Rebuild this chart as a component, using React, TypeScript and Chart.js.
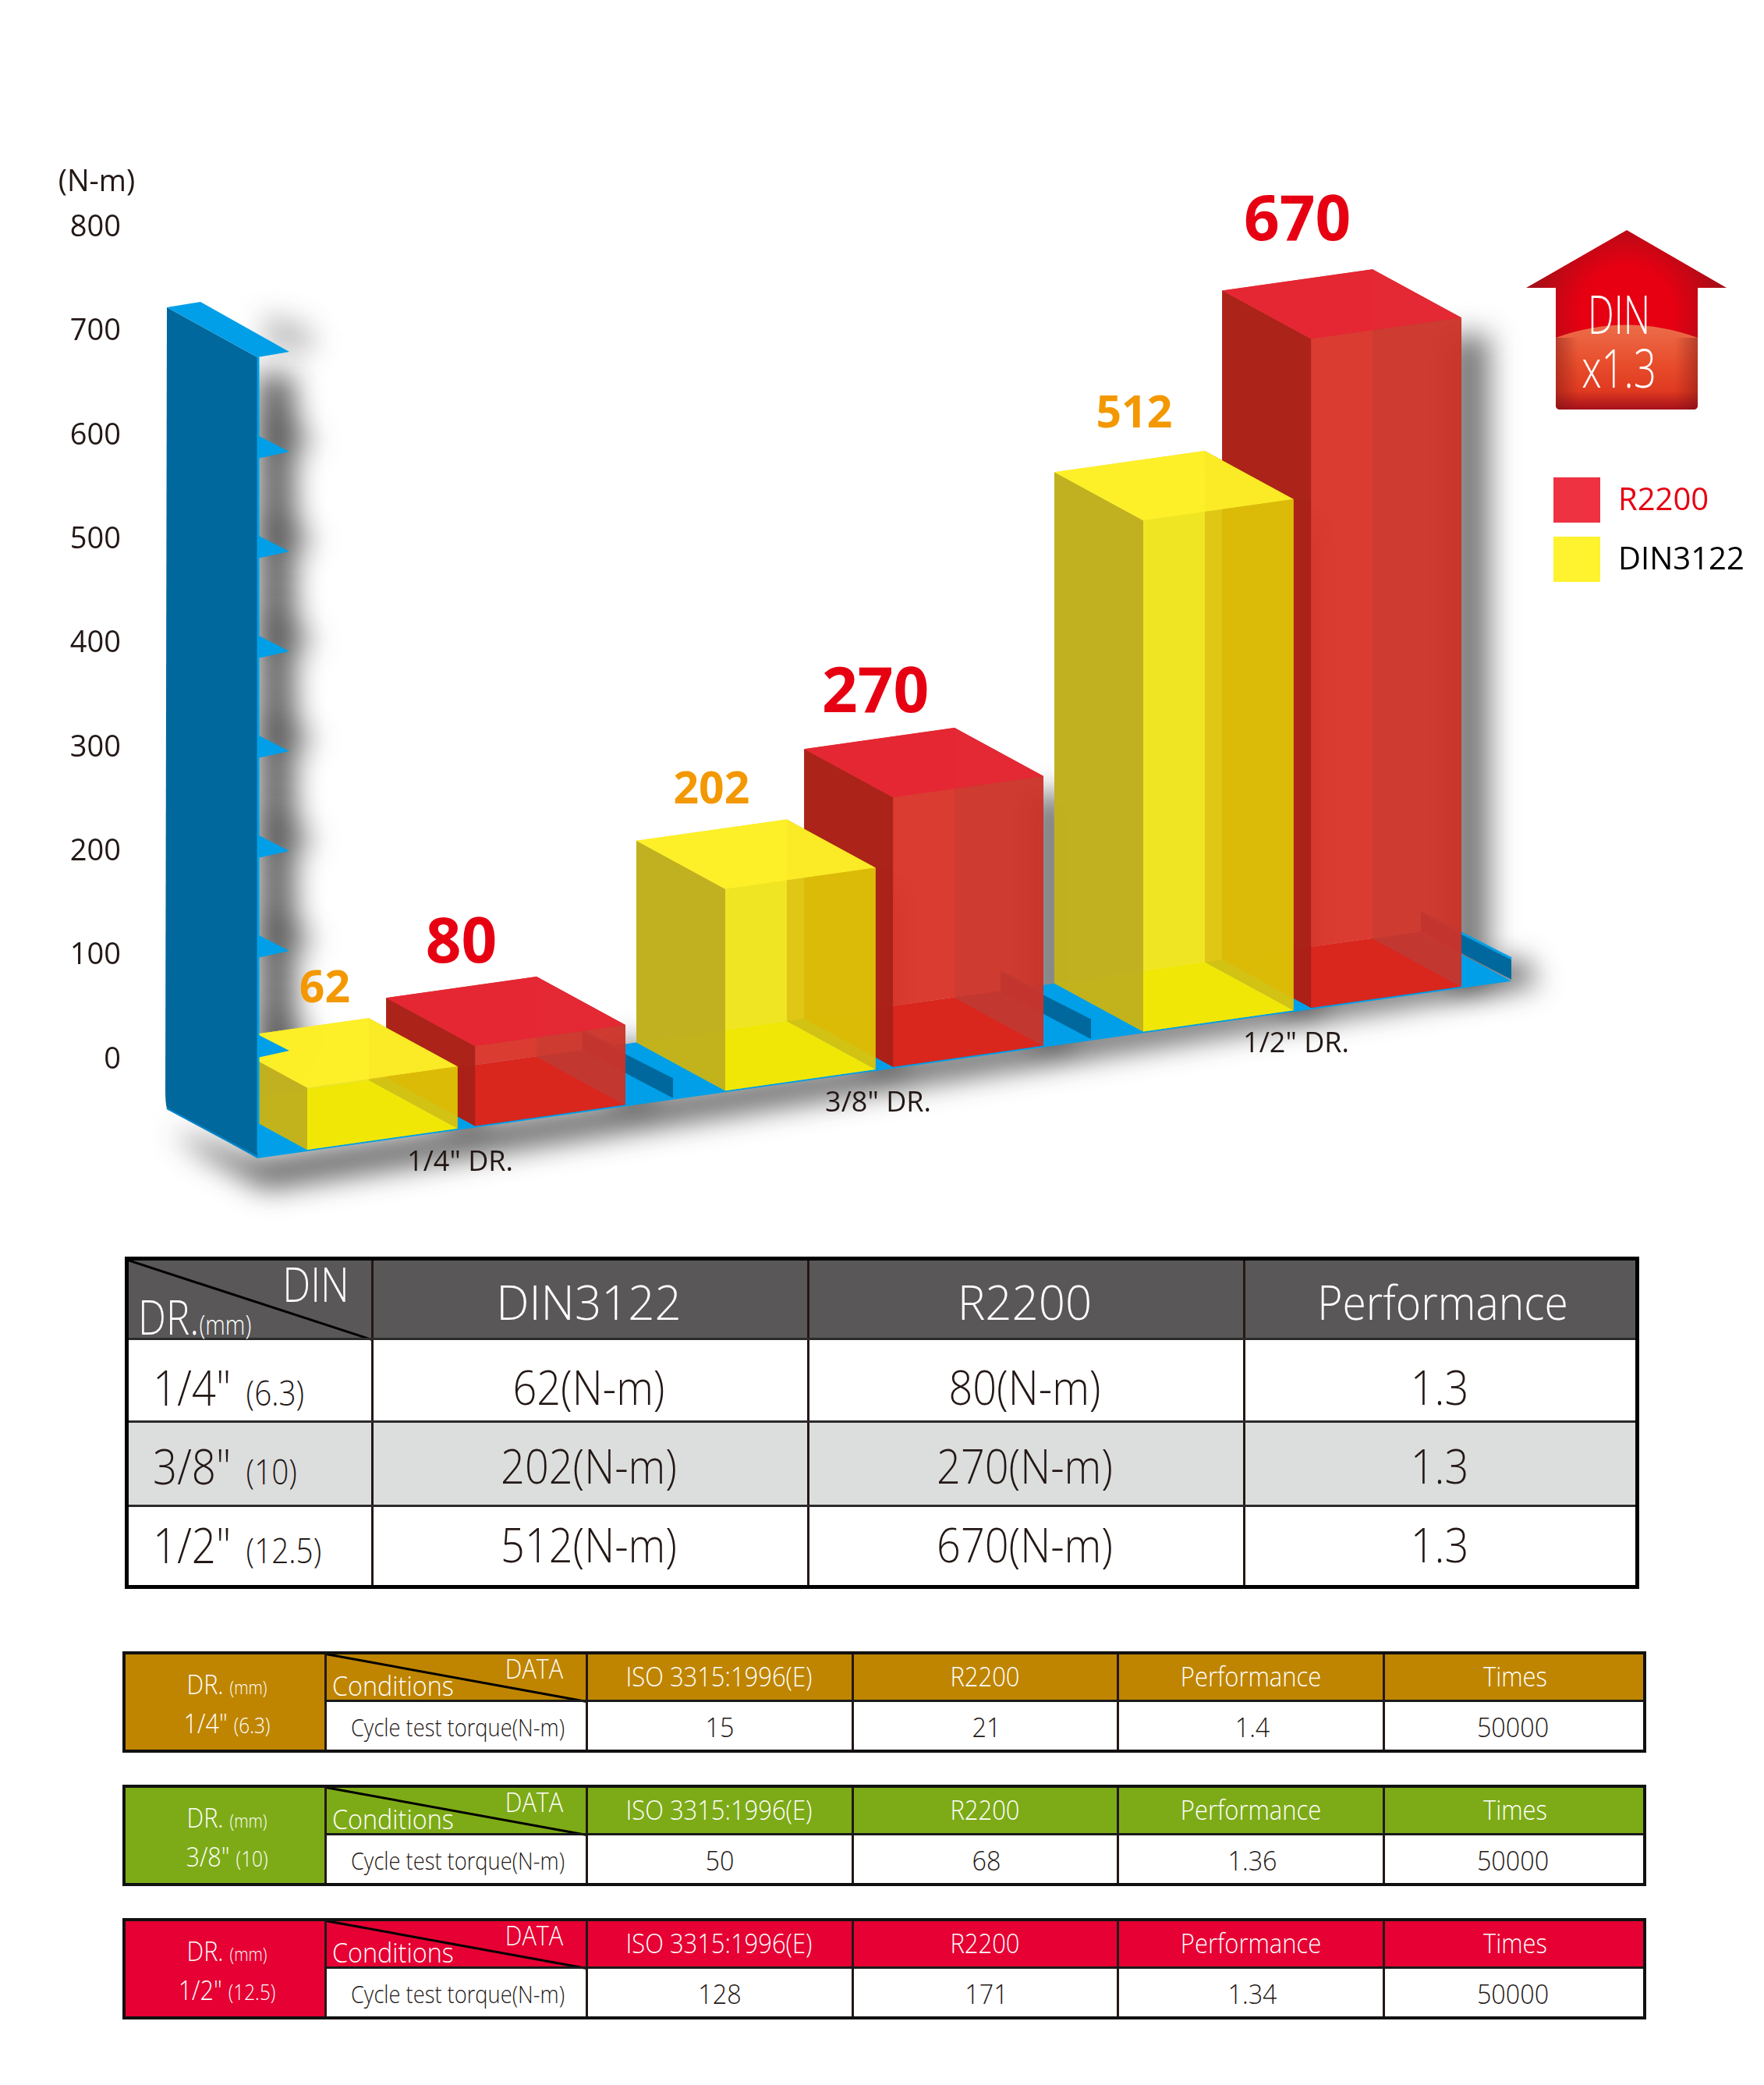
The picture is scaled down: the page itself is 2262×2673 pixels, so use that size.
import React, { useEffect, useRef } from "react";
import { Chart, registerables } from "chart.js";

Chart.register(...registerables);

// ---------- data ----------
const categories = ['1/4" DR.', '3/8" DR.', '1/2" DR.'];
const din3122 = [62, 202, 512];
const r2200 = [80, 270, 670];
const wallTickValues = [0, 100, 200, 300, 400, 500, 600, 700];

const mainHeaders = ["DIN3122", "R2200", "Performance"];
const driveSizes = ['1/4"', '3/8"', '1/2"'];
const driveMm = ["(6.3)", "(10)", "(12.5)"];
const mainDin = ["62(N-m)", "202(N-m)", "512(N-m)"];
const mainR = ["80(N-m)", "270(N-m)", "670(N-m)"];
const mainPerf = ["1.3", "1.3", "1.3"];

const cycleHeaders = ["ISO 3315:1996(E)", "R2200", "Performance", "Times"];
const cycleIso = ["15", "50", "128"];
const cycleR = ["21", "68", "171"];
const cyclePerf = ["1.4", "1.36", "1.34"];
const cycleTimes = ["50000", "50000", "50000"];

// ---------- styles ----------
const FONT = '"Open Sans"';
const INK = "#231815";
const BLUE = "#009fe8";
const DEEP = "#00689c";
const cycleColors = ["#bf8500", "#7dab17", "#e60033"];
const CAT_W = 0.803;
const BAR_W = 0.896;
const DEPTH_X = 114;
const DEPTH_Y = 62;
const SLOPE = 0.1413;
const FLOOR_DROP = 124;

type Pal = { bottom: string; back: string; left: string; right: string; top: string; front: string };
const RED: Pal = {
  bottom: "rgb(207,14,8)",
  back: "rgba(206,45,34,.93)",
  left: "rgba(169,34,24,.95)",
  right: "rgba(172,38,28,.9)",
  top: "rgba(230,40,52,.96)",
  front: "rgba(225,60,50,.55)",
};
const YEL: Pal = {
  bottom: "rgb(234,224,0)",
  back: "rgba(232,218,50,.93)",
  left: "rgba(190,174,30,.92)",
  right: "rgba(190,140,0,.88)",
  top: "rgba(254,240,40,.95)",
  front: "rgba(246,236,12,.55)",
};

function poly(ctx: CanvasRenderingContext2D, pts: number[][], fill: any) {
  ctx.beginPath();
  pts.forEach((p, i) => (i ? ctx.lineTo(p[0], p[1]) : ctx.moveTo(p[0], p[1])));
  ctx.closePath();
  ctx.fillStyle = fill;
  ctx.fill();
}

const dropAt = (chart: any, x: number) => FLOOR_DROP - SLOPE * (x - chart.chartArea.left);

function drawBox(ctx: CanvasRenderingContext2D, chart: any, el: any, pal: Pal) {
  const l = el.x - el.width / 2;
  const r = el.x + el.width / 2;
  const dl = dropAt(chart, l);
  const dr = dropAt(chart, r);
  const tl = [l, el.y + dl];
  const tr = [r, el.y + dr];
  const bl = [l, el.base + dl];
  const br = [r, el.base + dr];
  const b = (p: number[]) => [p[0] - DEPTH_X, p[1] - DEPTH_Y];
  poly(ctx, [bl, br, b(br), b(bl)], pal.bottom);
  poly(ctx, [b(tl), b(tr), b(br), b(bl)], pal.back);
  poly(ctx, [b(tl), tl, bl, b(bl)], pal.left);
  poly(ctx, [b(tr), tr, br, b(br)], pal.right);
  poly(ctx, [b(tl), b(tr), tr, tl], pal.top);
  poly(ctx, [tl, tr, br, bl], pal.front);
}

const scene3d = {
  id: "scene3d",
  beforeDatasetsDraw(chart: any) {
    const { ctx, chartArea: a, scales } = chart;
    const yb = scales.yBar;
    const xs = scales.x;
    const y0 = yb.getPixelForValue(0);
    const floorY = (x: number) => y0 + dropAt(chart, x);
    const wallTop = yb.getPixelForValue(700);

    // soft shadows
    ctx.save();
    ctx.filter = "blur(18px)";
    poly(ctx, [[a.left, wallTop + 12], [a.left + 48, wallTop + 22], [a.left + 48, y0], [a.left, y0 + 40]], "rgba(40,40,40,.72)");
    wallTickValues.forEach((v) => {
      const t = yb.getPixelForValue(v);
      poly(ctx, [[a.left + 10, t - 60], [a.left + 70, t - 40], [a.left + 70, t - 10], [a.left + 10, t - 20]], "rgba(40,40,40,.35)");
    });
    poly(ctx, [
      [a.left - 110, y0 + 90], [a.left, floorY(a.left) + 2], [a.right + 18, floorY(a.right) - 26],
      [a.right + 34, floorY(a.right) + 6], [a.left + 10, floorY(a.left) + 42], [a.left - 70, y0 + 120],
    ], "rgba(30,30,30,.68)");
    [0, 1].forEach((d) => {
      chart.getDatasetMeta(d).data.forEach((el: any) => {
        const r = el.x + el.width / 2;
        poly(ctx, [
          [r - 20, el.y + dropAt(chart, r) + 22], [r + 36, el.y + dropAt(chart, r) + 22],
          [r + 36, el.base + dropAt(chart, r)], [r - 20, el.base + dropAt(chart, r)],
        ], "rgba(40,40,40,.62)");
      });
    });
    ctx.restore();

    // floor slab
    poly(ctx, [
      [a.left, floorY(a.left) + 2], [a.right, floorY(a.right) + 2],
      [a.right - DEPTH_X - 3, floorY(a.right) - DEPTH_Y + 1], [a.left - DEPTH_X, floorY(a.left) - DEPTH_Y],
    ], BLUE);

    // ridge at the right-hand end of every group
    const half = (xs.getPixelForValue(1) - xs.getPixelForValue(0)) / 2;
    categories.forEach((_, i) => {
      const x = xs.getPixelForValue(i) + half - (i < 2 ? 3 : 0);
      const f = floorY(x);
      poly(ctx, [[x, f - 26], [x, f], [x - 116, f - 61], [x - 116, f - 85]], DEEP);
      ctx.strokeStyle = BLUE;
      ctx.lineWidth = 3;
      ctx.beginPath();
      ctx.moveTo(x, f - 27);
      ctx.lineTo(x - 116, f - 86);
      ctx.stroke();
    });
  },
  beforeDatasetDraw(chart: any, args: any) {
    const { ctx } = chart;
    const pal = args.index === 0 ? YEL : RED;
    args.meta.data.forEach((el: any) => drawBox(ctx, chart, el, pal));
    return false;
  },
  afterDatasetsDraw(chart: any) {
    const { ctx, chartArea: a, scales } = chart;
    const yb = scales.yBar;
    const xs = scales.x;
    const y0 = yb.getPixelForValue(0);
    const floorY = (x: number) => y0 + dropAt(chart, x);
    const top = yb.getPixelForValue(700) - 5;
    const L = a.left;

    // ticks on the wall
    wallTickValues.slice(0, 7).forEach((v) => {
      const t = yb.getPixelForValue(v);
      poly(ctx, [[L, t - 33], [L + 41, t - 12], [L, t - 3]], BLUE);
    });

    // wall
    ctx.beginPath();
    ctx.moveTo(L, top);
    ctx.lineTo(L - 116, top - 64);
    ctx.lineTo(L - 118, y0 + 38);
    ctx.quadraticCurveTo(L - 118, y0 + 56, L - 116, y0 + 62);
    ctx.lineTo(L, y0 + FLOOR_DROP);
    ctx.closePath();
    ctx.fillStyle = DEEP;
    ctx.fill();
    ctx.strokeStyle = "#0083c6";
    ctx.lineWidth = 2;
    ctx.beginPath();
    ctx.moveTo(L - 116, y0 + 62);
    ctx.lineTo(L, y0 + FLOOR_DROP);
    ctx.stroke();
    poly(ctx, [[L, top], [L - 116, top - 64], [L - 73, top - 71], [L + 41, top - 7]], BLUE);
    ctx.strokeStyle = BLUE;
    ctx.lineWidth = 3;
    ctx.beginPath();
    ctx.moveTo(L + 1, top);
    ctx.lineTo(L + 1, y0 + FLOOR_DROP - 6);
    ctx.stroke();

    // axis title
    ctx.textAlign = "center";
    ctx.textBaseline = "middle";
    ctx.fillStyle = INK;
    ctx.font = `38px ${FONT}`;
    ctx.fillText("(N-m)", 124, 234);

    // category labels, under the sloping floor
    ctx.font = `36px ${FONT}`;
    categories.forEach((c, i) => {
      const x = xs.getPixelForValue(i) - 8;
      ctx.fillText(c, x, floorY(x) + 44);
    });

    // value labels above the boxes
    const lab = (d: number, color: string, size: number, rise: number, nudge: number[][]) => {
      ctx.fillStyle = color;
      ctx.font = `bold ${size}px ${FONT}`;
      chart.getDatasetMeta(d).data.forEach((el: any, i: number) => {
        const x = el.x - DEPTH_X;
        const y = el.y + dropAt(chart, x + DEPTH_X) - DEPTH_Y - rise;
        const v = chart.data.datasets[d].data[i];
        ctx.fillText(String(v), x + nudge[i][0], y + nudge[i][1]);
      });
    };
    lab(0, "#f39800", 57, 50, [[40, 0], [0, 0], [6, -10]]);
    lab(1, "#e60012", 80, 62, [[0, 8], [-5, 6], [0, -12]]);

    // legend
    const lx = 1992;
    poly(ctx, [[lx, 612], [lx + 60, 612], [lx + 60, 670], [lx, 670]], "#ee3242");
    poly(ctx, [[lx, 688], [lx + 60, 688], [lx + 60, 746], [lx, 746]], "#fff22e");
    ctx.textAlign = "left";
    ctx.font = `40px ${FONT}`;
    ctx.fillStyle = "#e60012";
    ctx.fillText(chart.data.datasets[1].label, 2075, 643);
    ctx.fillStyle = "#000";
    ctx.fillText(chart.data.datasets[0].label, 2075, 719);

    // DIN x1.3 badge
    const house = () => {
      ctx.beginPath();
      ctx.moveTo(2086, 295);
      ctx.lineTo(2214, 369);
      ctx.lineTo(2177, 369);
      ctx.lineTo(2177, 519);
      ctx.quadraticCurveTo(2177, 525, 2171, 525);
      ctx.lineTo(2001, 525);
      ctx.quadraticCurveTo(1995, 525, 1995, 519);
      ctx.lineTo(1995, 369);
      ctx.lineTo(1957, 369);
      ctx.closePath();
    };
    ctx.save();
    house();
    ctx.clip();
    const g = ctx.createRadialGradient(2086, 400, 60, 2086, 400, 135);
    g.addColorStop(0, "#e60012");
    g.addColorStop(1, "#9c1018");
    ctx.fillStyle = g;
    ctx.fillRect(1950, 290, 270, 240);
    ctx.beginPath();
    ctx.moveTo(1995, 433);
    ctx.quadraticCurveTo(2086, 400, 2177, 433);
    ctx.lineTo(2177, 530);
    ctx.lineTo(1995, 530);
    ctx.closePath();
    const g2 = ctx.createLinearGradient(0, 416, 0, 525);
    g2.addColorStop(0, "#ec6d4a");
    g2.addColorStop(0.45, "#e84e2c");
    g2.addColorStop(0.78, "#e03a20");
    g2.addColorStop(1, "#a5101a");
    ctx.fillStyle = g2;
    ctx.fill();
    const g3 = ctx.createLinearGradient(1995, 0, 2177, 0);
    g3.addColorStop(0, "rgba(120,20,20,.45)");
    g3.addColorStop(0.16, "rgba(120,20,20,0)");
    g3.addColorStop(0.84, "rgba(120,20,20,0)");
    g3.addColorStop(1, "rgba(120,20,20,.45)");
    ctx.fillStyle = g3;
    ctx.fillRect(1995, 433, 182, 92);
    ctx.restore();
    ctx.fillStyle = "#fff";
    ctx.textAlign = "center";
    ctx.font = `300 68px ${FONT}`;
    ctx.save();
    ctx.translate(2076, 409);
    ctx.scale(0.7, 1);
    ctx.fillText("DIN", 0, 0);
    ctx.restore();
    ctx.save();
    ctx.translate(2076, 478);
    ctx.scale(0.75, 1);
    ctx.fillText("x1.3", 0, 0);
    ctx.restore();
  },
};

function ChartCanvas() {
  const ref = useRef<HTMLCanvasElement>(null);
  useEffect(() => {
    const chart = new Chart(ref.current as HTMLCanvasElement, {
      type: "bar",
      data: {
        labels: categories,
        datasets: [
          { label: "DIN3122", data: din3122, backgroundColor: "#fff22e", yAxisID: "yBar", categoryPercentage: CAT_W, barPercentage: BAR_W },
          { label: "R2200", data: r2200, backgroundColor: "#ee3242", yAxisID: "yBar", categoryPercentage: CAT_W, barPercentage: BAR_W },
        ],
      },
      options: {
        responsive: false,
        animation: false,
        layout: { padding: { left: 0, right: 324, top: 292, bottom: 221 } },
        plugins: { legend: { display: false }, tooltip: { enabled: false }, title: { display: false } },
        scales: {
          x: { type: "category", display: false, grid: { display: false } },
          y: {
            type: "linear",
            position: "left",
            min: 0,
            max: 800,
            grid: { display: false, drawTicks: false },
            border: { display: false },
            ticks: { stepSize: 100, padding: 175, color: INK, font: { family: "Open Sans", size: 38 } },
            afterFit(s: any) {
              s.width = 330;
            },
          },
          yBar: { type: "linear", display: false, position: "left", min: 0, max: 833.6, grid: { display: false } },
        },
      },
      plugins: [scene3d],
    } as any);
    return () => chart.destroy();
  }, []);
  return <canvas ref={ref} width={2262} height={1580} style={{ position: "absolute", left: 0, top: 0, display: "block" }} />;
}

// ---------- table helpers ----------
function Rect({ x, y, w, h, bg, border }: any) {
  return (
    <div
      style={{
        position: "absolute",
        left: x,
        top: y,
        width: w,
        height: h,
        background: bg,
        border,
        boxSizing: "border-box",
      }}
    />
  );
}

function Txt({ x, y, size, color = INK, sx = 1, anchor = "center", weight = 300, children }: any) {
  const tx = anchor === "center" ? "translate(-50%,-50%)" : "translate(0,-50%)";
  return (
    <div
      style={{
        position: "absolute",
        left: x,
        top: y,
        fontFamily: FONT,
        fontSize: size,
        fontWeight: weight,
        color,
        lineHeight: 1,
        whiteSpace: "nowrap",
        transform: `${tx} scaleX(${sx})`,
        transformOrigin: anchor === "center" ? "center" : "left center",
      }}
    >
      {children}
    </div>
  );
}

function Diag({ x1, y1, x2, y2, t = 3 }: any) {
  const len = Math.hypot(x2 - x1, y2 - y1);
  const ang = Math.atan2(y2 - y1, x2 - x1);
  return (
    <div
      style={{
        position: "absolute",
        left: x1,
        top: y1,
        width: len,
        height: t,
        background: "#000",
        transformOrigin: "0 0",
        transform: `rotate(${ang}rad)`,
      }}
    />
  );
}

function MainTable() {
  const colX = [477, 1036, 1595];
  const rowY = [1716, 1822, 1930];
  const centers = [755, 1314, 1850];
  const rowC = [1778, 1879, 1980];
  return (
    <>
      <Rect x={160} y={1611} w={1942} h={105} bg="#595757" />
      <Rect x={160} y={1822} w={1942} h={108} bg="#dcdddd" />
      <Diag x1={164} y1={1614} x2={477} y2={1716} />
      {colX.map((x) => (
        <Rect key={x} x={x - 1} y={1611} w={3} h={426} bg={INK} />
      ))}
      {rowY.map((y) => (
        <Rect key={y} x={160} y={y - 1} w={1942} h={3} bg="#2b2b2b" />
      ))}
      <Rect x={160} y={1611} w={1942} h={426} border="5px solid #000" />
      <Txt x={405} y={1646} size={60} color="#fff" sx={0.85}>DIN</Txt>
      <Txt x={177} y={1688} size={60} color="#fff" sx={0.85} anchor="left">
        DR.<span style={{ fontSize: 34 }}>(mm)</span>
      </Txt>
      {mainHeaders.map((h, i) => (
        <Txt key={h} x={centers[i]} y={1669} size={60} color="#fff" sx={i === 2 ? 0.92 : 1}>{h}</Txt>
      ))}
      {driveSizes.map((d, i) => (
        <React.Fragment key={d}>
          <Txt x={196} y={rowC[i]} size={62} sx={0.88} anchor="left">
            {d} <span style={{ fontSize: 44, marginLeft: 6 }}>{driveMm[i]}</span>
          </Txt>
          <Txt x={centers[0]} y={rowC[i]} size={60} sx={0.9}>{mainDin[i]}</Txt>
          <Txt x={centers[1]} y={rowC[i]} size={60} sx={0.9}>{mainR[i]}</Txt>
          <Txt x={centers[2] - 4} y={rowC[i]} size={60} sx={0.9}>{mainPerf[i]}</Txt>
        </React.Fragment>
      ))}
    </>
  );
}

function CycleTable({ i }: { i: number }) {
  const top = 2117 + i * 171;
  const H = 130;
  const mid = top + 63;
  const bg = cycleColors[i];
  const cols = [417, 752, 1093, 1433, 1774];
  const hc = [922, 1263, 1604, 1943];
  const bc = [923, 1265, 1606, 1940];
  const vals = [cycleIso[i], cycleR[i], cyclePerf[i], cycleTimes[i]];
  const hy = top + 32;
  const by = top + 97;
  return (
    <>
      <Rect x={157} y={top} w={1954} h={mid - top} bg={bg} />
      <Rect x={157} y={top} w={260} h={H} bg={bg} />
      <Diag x1={418} y1={top + 2} x2={752} y2={mid} />
      {cols.map((x) => (
        <Rect key={x} x={x - 1} y={top} w={2.5} h={H} bg={INK} />
      ))}
      <Rect x={417} y={mid - 1} w={1694} h={3} bg="#1a1a1a" />
      <Rect x={157} y={top} w={1954} h={H} border="4px solid #111" />
      <Txt x={291} y={top + 42} size={34} color="#fff" sx={0.9}>
        DR. <span style={{ fontSize: 23 }}>(mm)</span>
      </Txt>
      <Txt x={291} y={top + 92} size={34} color="#fff" sx={0.9}>
        {driveSizes[i]} <span style={{ fontSize: 27 }}>{driveMm[i]}</span>
      </Txt>
      <Txt x={685} y={top + 22} size={34} color="#fff" sx={0.9}>DATA</Txt>
      <Txt x={426} y={top + 44} size={34} color="#fff" sx={0.95} anchor="left">Conditions</Txt>
      <Txt x={587} y={by} size={31} sx={0.88}>Cycle test torque(N-m)</Txt>
      {cycleHeaders.map((h, k) => (
        <Txt key={h} x={hc[k]} y={hy} size={34} color="#fff" sx={0.91}>{h}</Txt>
      ))}
      {vals.map((v, k) => (
        <Txt key={k} x={bc[k]} y={by} size={34} sx={0.95}>{v}</Txt>
      ))}
    </>
  );
}

export default function App() {
  return (
    <div style={{ position: "absolute", left: 0, top: 0, width: 2262, height: 2673, background: "#fff", overflow: "hidden" }}>
      <ChartCanvas />
      <MainTable />
      {[0, 1, 2].map((i) => (
        <CycleTable key={i} i={i} />
      ))}
    </div>
  );
}
